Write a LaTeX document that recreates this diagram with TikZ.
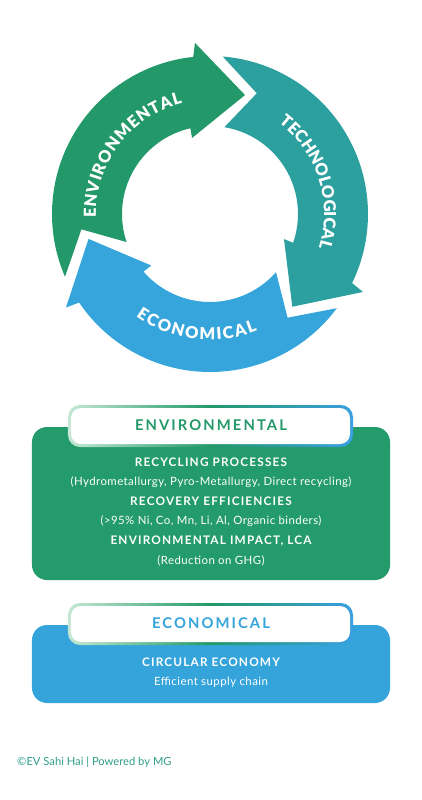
\documentclass[tikz,border=0pt]{standalone}
\usepackage{fontspec}
\setmainfont{Lato}
\newfontfamily\hdrfont[LetterSpace=14]{Lato}
\newfontfamily\capsfont[LetterSpace=10]{Lato}
\newfontfamily\bodyfont[LetterSpace=4]{Lato}
\newfontfamily\arcfont{Lato Black}
\usetikzlibrary{decorations.text}
\definecolor{envgreen}{HTML}{23996A}
\definecolor{techteal}{HTML}{2CA09F}
\definecolor{ecoblue}{HTML}{35A5DB}
\definecolor{boxgreen}{HTML}{239B6A}
\definecolor{boxblue}{HTML}{35A4DA}
\definecolor{palemint}{HTML}{C4E8D5}
\definecolor{hdrblue}{HTML}{3A9FE0}
\definecolor{footteal}{HTML}{2E9E88}
\newcommand\cycarrow[3]{%
  \fill[#3] ({#2+11.8}:158pt) arc[start angle={#2+11.8}, end angle={#1+22.5}, radius=158pt]
    -- ({#1+21.4}:171.7pt) -- (#1:124pt) -- ({#1+29.7}:78.1pt) -- ({#1+29.3}:88pt)
    arc[start angle={#1+29.3}, end angle={#2+7}, radius=88pt]
    -- ({#2-4.8}:129.5pt) -- cycle;}
\tikzset{
  arctext/.style={decorate, decoration={text along path, text align={fit to path},
      text={|\arcfont\fontsize{16.5}{16.5}\selectfont\color{white}|#1}}},
  hdrtext/.style={font=\hdrfont\bfseries\fontsize{14.8}{14.8}\selectfont, inner sep=0pt},
  capline/.style={font=\capsfont\bfseries\fontsize{11.8}{11.8}\selectfont, text=white, inner sep=0pt},
  bodyline/.style={font=\bodyfont\fontsize{11.4}{11.4}\selectfont, text=white, inner sep=0pt},
  panel/.style={rounded corners=15pt},
  hdrframe/.style={rounded corners=12pt, left color=palemint, right color=hdrblue, middle color=envgreen},
  hdrinner/.style={rounded corners=10pt, fill=white}
}
\begin{document}
\begin{tikzpicture}[x=1pt,y=1pt]
\useasboundingbox (-210,214) rectangle (212,-586);
% cycle arrows
\cycarrow{73.6}{191.6}{envgreen}
\cycarrow{-48.4}{73.6}{techteal}
\cycarrow{191.6}{311.6}{ecoblue}
\path[arctext=ENVIRONMENTAL] (182:114pt) arc[start angle=182, end angle=104, radius=114pt];
\path[arctext=TECHNOLOGICAL] (53:114pt) arc[start angle=53, end angle=-17, radius=114pt];
\path[arctext=ECONOMICAL] (234:126pt) arc[start angle=234, end angle=292, radius=126pt];
% environmental panel
\fill[boxgreen, panel] (-178,-213) rectangle (180,-366);
\shade[hdrframe] (-142,-191) rectangle (143,-233);
\fill[hdrinner] (-139,-194) rectangle (140,-230);
\node[hdrtext, text=envgreen] (envhdr) at (1,-211) {ENVIRONMENTAL};
\node[capline] (rp) at (1,-248) {RECYCLING PROCESSES};
\node[bodyline] (rpd) at (1,-268) {(Hydrometallurgy, Pyro-Metallurgy, Direct recycling)};
\node[capline] (re) at (1,-287) {RECOVERY EFFICIENCIES};
\node[bodyline] (red) at (1,-307) {(>95\% Ni, Co, Mn, Li, Al, Organic binders)};
\node[capline] (ei) at (1,-327) {ENVIRONMENTAL IMPACT, LCA};
\node[bodyline] (eid) at (1,-347) {(Reduction on GHG)};
% economical panel
\fill[boxblue, panel] (-178,-411) rectangle (180,-489);
\shade[hdrframe] (-142,-389) rectangle (143,-431);
\fill[hdrinner] (-139,-392) rectangle (140,-428);
\node[hdrtext, text=boxblue] (ecohdr) at (1,-409) {ECONOMICAL};
\node[capline] (ce) at (1,-448) {CIRCULAR ECONOMY};
\node[bodyline] (ced) at (1,-468) {Efficient supply chain};
% footer
\node[anchor=west, inner sep=0pt, text=footteal, font=\fontsize{11.2}{11.2}\selectfont] (foot) at (-193,-548) {©EV Sahi Hai | Powered by MG};
\end{tikzpicture}
\end{document}
